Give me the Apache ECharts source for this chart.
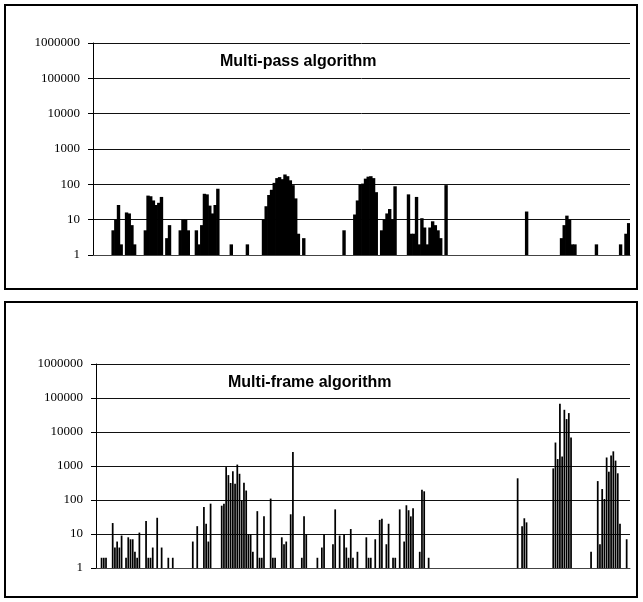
<!DOCTYPE html>
<html><head><meta charset="utf-8">
<script src="https://cdn.jsdelivr.net/npm/echarts@6/dist/echarts.min.js"></script>
<style>html,body{margin:0;padding:0;background:#fff}#c{width:643px;height:602px}</style>
</head><body><div id="c"></div>
<script>
// Multi-pass algorithm: category index -> value
const passCount = 200;
const passIdx = [7,8,9,10, 12,13,14,15, 19,20,21,22,23,24,25, 27,28, 32,33,34,35,
  38,39,40,41,42,43,44,45,46, 51,57,
  63,64,65,66,67,68,69,70,71,72,73,74,75,76, 78,93,
  97,98,99,100,101,102,103,104,105, 107,108,109,110,111,112,
  117,118,119,120,121,122,123,124,125,126,127,128,129,131,
  161,174,175,176,177,178,179,187,196,198,199];
const passVal = [5,10,26,2, 16,15,7,2, 5,48,46,35,26,30,44, 3,7, 5,10,10,5,
  5,2,7,54,52,25,15,26,75, 2,2,
  10,24,50,70,110,150,160,140,190,170,130,95,40,4, 3,5,
  14,35,100,105,145,165,170,150,60, 5,10,15,20,10,88,
  52,4,4,44,2,11,6,2,6,9,7,5,3,95,
  17,3,7,13,10,2,2,2,2,4,8];

// Multi-frame algorithm: category index -> value
const frameCount = 240;
const frameIdx = [2,3,4, 7,8,9,10,11, 13,14,15,16,17,18,19, 22,23,24,25,27,29, 32,34,
  43,45,48,49,50,51,
  56,57,58,59,60,61,62,63,64,65,66,67,68,69,70,72,73,74,75,
  78,79,80,83,84,85,87,88, 92,93,94,99,101,102,
  106,107,109,111,112,113,114,115,117,
  121,122,123,125,127,128,130,131,133,134,
  136,138,139,140,141,142,145,146,147,149,
  189,191,192,193,
  205,206,207,208,209,210,211,212,213,
  222,225,226,227,228,229,230,231,232,233,234,235,238];
const frameVal = [2,2,2, 21,4,6,4,9, 2,8,7,7,3,2,11, 24,2,2,4,30,4, 2,2,
  6,17,62,20,6,78,
  68,78,930,540,316,700,300,1100,590,100,320,190,10,10,3,47,2,2,33,
  110,2,2,8,5,6,38,2600, 2,33,10,2,4,10,
  5,53,9,10,4,2,14,2,3,
  8,2,2,7,26,28,5,20,2,2,
  53,6,70,50,33,57,3,200,180,2,
  435,17,29,22,
  850,4900,1600,68000,1900,45000,24000,36000,6900,
  3,360,5,210,107,1780,680,2040,2700,1440,610,20,7];

const yTicks = [1,10,100,1000,10000,100000,1000000];

function dense(n, idx, val) {
  const d = new Array(n).fill('-');
  idx.forEach((k, i) => { d[k] = val[i]; });
  return d;
}
function cats(n) { return Array.from({length: n}, (_, i) => String(i + 1)); }

const chart = echarts.init(document.getElementById('c'), null, {renderer: 'canvas'});

function yAxisCfg(gi) {
  return {
    type: 'log', logBase: 10, min: yTicks[0], max: yTicks[yTicks.length - 1], gridIndex: gi,
    axisLine: {show: true, lineStyle: {color: '#000', width: 1}},
    axisTick: {show: true, length: 5, lineStyle: {color: '#000'}},
    axisLabel: {color: '#000', fontFamily: 'Liberation Serif', fontSize: 13, margin: 13,
      formatter: v => String(Math.round(v))},
    splitLine: {show: true, lineStyle: {color: '#111', width: 1}},
    minorTick: {show: false}
  };
}
function xAxisCfg(gi, n) {
  return {
    type: 'category', data: cats(n), gridIndex: gi,
    axisLine: {show: true, lineStyle: {color: '#444', width: 1}},
    axisTick: {show: false}, axisLabel: {show: false}, splitLine: {show: false}
  };
}

chart.setOption({
  animation: false,
  backgroundColor: '#fff',
  grid: [
    {left: 93, right: 13, top: 43, height: 212},
    {left: 96, right: 13, top: 364, height: 204}
  ],
  xAxis: [xAxisCfg(0, passCount), xAxisCfg(1, frameCount)],
  yAxis: [yAxisCfg(0), yAxisCfg(1)],
  series: [
    {type: 'bar', xAxisIndex: 0, yAxisIndex: 0, data: dense(passCount, passIdx, passVal),
      itemStyle: {color: '#000'}, barWidth: 3.4},
    {type: 'bar', xAxisIndex: 1, yAxisIndex: 1, data: dense(frameCount, frameIdx, frameVal),
      itemStyle: {color: '#000'}, barWidth: '78%'}
  ],
  graphic: [
    {type: 'rect', shape: {x: 5, y: 5, width: 632, height: 284},
      style: {fill: 'none', stroke: '#000', lineWidth: 2}},
    {type: 'rect', shape: {x: 5, y: 302, width: 632, height: 295},
      style: {fill: 'none', stroke: '#000', lineWidth: 2}},
    {type: 'text', x: 220, y: 62, style: {text: 'Multi-pass algorithm', fill: '#000',
      font: 'bold 16px "Liberation Sans"', textVerticalAlign: 'middle'}},
    {type: 'text', x: 228, y: 383, style: {text: 'Multi-frame algorithm', fill: '#000',
      font: 'bold 16px "Liberation Sans"', textVerticalAlign: 'middle'}}
  ]
});
</script>
</body></html>
